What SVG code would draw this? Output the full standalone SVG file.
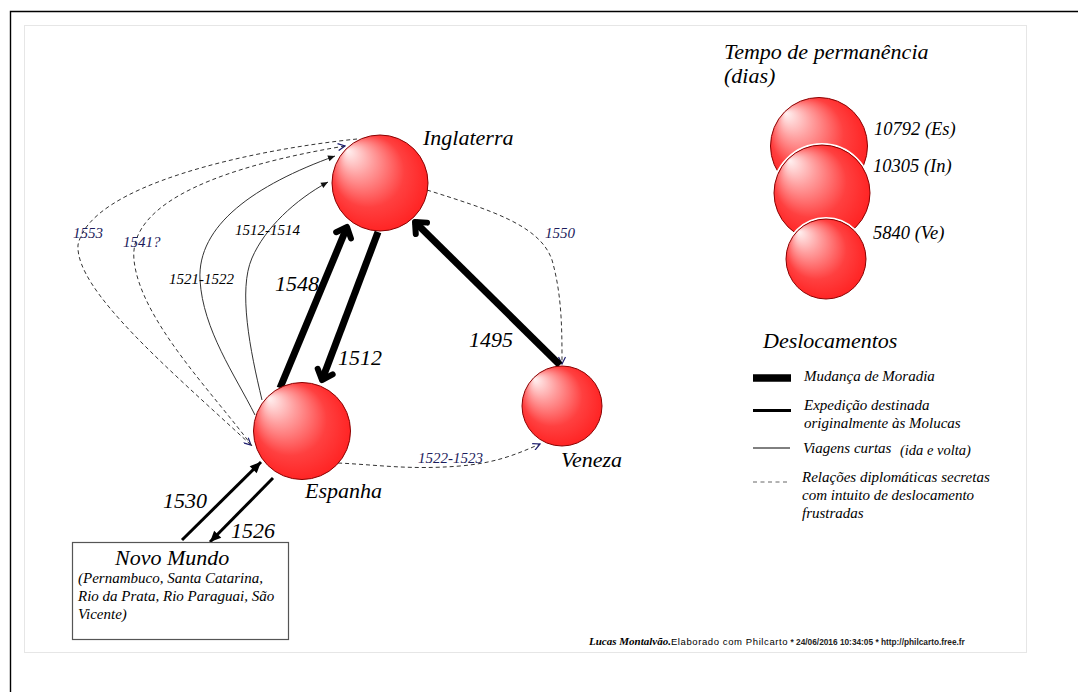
<svg xmlns="http://www.w3.org/2000/svg" width="1078" height="692" viewBox="0 0 1078 692">
  <style>
    .lbl { font-family: "Liberation Serif", "Times New Roman", serif; font-style: italic; fill: #000; }
    .big { font-size: 22px; }
    .mid { font-size: 15px; }
    .navy { fill: #1c1c5c; }
    .ball { fill: url(#ball); stroke: #8a0000; stroke-width: 1; }
    .halo { fill: none; stroke: #fff; stroke-width: 2; }
    .thick { stroke: #000; stroke-width: 7; fill: none; }
    .medium { stroke: #000; stroke-width: 3; fill: none; }
    .thin { stroke: #333; stroke-width: 1; fill: none; }
    .dash { stroke: #333; stroke-width: 1; fill: none; stroke-dasharray: 4 3; }
  </style>
  <defs>
    <radialGradient id="ball" cx="0.6" cy="0.6" r="0.75" fx="0.16" fy="0.16">
      <stop offset="0" stop-color="#fff2f2"/>
      <stop offset="0.22" stop-color="#ffa0a0"/>
      <stop offset="0.5" stop-color="#ff4040"/>
      <stop offset="0.8" stop-color="#ff1818"/>
      <stop offset="1" stop-color="#ff0000"/>
    </radialGradient>
    <marker id="chev" viewBox="-16 -14 20 28" refX="0" refY="0" markerWidth="20" markerHeight="28" markerUnits="userSpaceOnUse" orient="auto">
      <path d="M -9 -8 L 0 0 L -9 8" fill="none" stroke="#000" stroke-width="6" stroke-linecap="round" stroke-linejoin="round"/>
    </marker>
    <marker id="tri" viewBox="-12 -6 14 12" refX="0" refY="0" markerWidth="14" markerHeight="12" markerUnits="userSpaceOnUse" orient="auto">
      <path d="M -11 -5 L 0 0 L -11 5 Z" fill="#000"/>
    </marker>
    <marker id="tiny" viewBox="-8 -4 9 8" refX="0" refY="0" markerWidth="9" markerHeight="8" markerUnits="userSpaceOnUse" orient="auto">
      <path d="M -7 -3 L 0 0 L -7 3 Z" fill="#111"/>
    </marker>
    <marker id="tinyNavy" viewBox="-8 -4 9 8" refX="0" refY="0" markerWidth="9" markerHeight="8" markerUnits="userSpaceOnUse" orient="auto">
      <path d="M -7 -3.5 L 0 0 L -7 3.5" fill="none" stroke="#1c1c6e" stroke-width="1.2"/>
    </marker>
  </defs>

  <!-- page frame -->
  <rect width="1078" height="692" fill="#fff"/>
  <path d="M 10.5 692 L 10.5 11.5 L 1078 11.5" fill="none" stroke="#000" stroke-width="1.4"/>
  <rect x="24.5" y="25.5" width="1002" height="627" fill="none" stroke="#e6e6e6" stroke-width="1"/>

  <!-- connectors -->
  <g id="connectors">
    <!-- short trips Espanha -> Inglaterra -->
    <path class="thin" d="M 255 415 C 235 375 203 330 200 280 C 197 225 255 185 335 156" marker-end="url(#tiny)"/>
    <path class="thin" d="M 262 400 C 250 350 238 290 252 258 C 265 228 295 200 328 182" marker-end="url(#tiny)"/>
    <!-- secret diplomatic relations -->
    <path class="dash" d="M 357 139 C 250 150 90 185 78 245 C 75 290 170 370 251 445" marker-end="url(#tinyNavy)"/>
    <path class="dash" d="M 252 446 C 215 395 140 320 134 260 C 128 200 230 165 345 146" marker-end="url(#tinyNavy)"/>
    <path class="dash" d="M 427 190 C 490 210 540 225 552 260 C 562 295 562 330 562 364" marker-end="url(#tinyNavy)"/>
    <path class="dash" d="M 338 463 C 380 465 410 470 460 466 C 495 463 515 455 540 444" marker-end="url(#tinyNavy)"/>
    <!-- change of residence -->
    <line class="thick" x1="280" y1="388" x2="347" y2="227" marker-end="url(#chev)"/>
    <line class="thick" x1="378" y1="232" x2="322" y2="380" marker-end="url(#chev)"/>
    <line class="thick" x1="560" y1="365" x2="415" y2="222" marker-end="url(#chev)"/>
    <!-- Moluccas expedition -->
    <line class="medium" x1="182" y1="540" x2="261" y2="462" marker-end="url(#tri)"/>
    <line class="medium" x1="273" y1="478" x2="210" y2="542" marker-end="url(#tri)"/>

    <g class="lbl">
      <text class="big" x="275" y="291">1548</text>
      <text class="big" x="338" y="365">1512</text>
      <text class="big" x="469" y="347">1495</text>
      <text class="big" x="163" y="508">1530</text>
      <text class="big" x="231" y="538">1526</text>
      <text class="mid navy" x="73" y="238">1553</text>
      <text class="mid navy" x="123" y="247">1541?</text>
      <text class="mid" x="235" y="235">1512-1514</text>
      <text class="mid" x="169" y="284">1521-1522</text>
      <text class="mid navy" x="545" y="238">1550</text>
      <text class="mid navy" x="418" y="463">1522-1523</text>
    </g>
  </g>

  <!-- places -->
  <g id="inglaterra">
    <circle class="ball" cx="380" cy="183" r="48"/>
    <text class="lbl big" x="423" y="145">Inglaterra</text>
  </g>
  <g id="espanha">
    <circle class="ball" cx="302" cy="431" r="48.5"/>
    <text class="lbl big" x="305" y="498">Espanha</text>
  </g>
  <g id="veneza">
    <circle class="ball" cx="562" cy="406" r="40"/>
    <text class="lbl big" x="561" y="467">Veneza</text>
  </g>
  <g id="novo-mundo">
    <rect x="72.5" y="542.5" width="216" height="97" fill="#fff" stroke="#555" stroke-width="1.2"/>
    <text class="lbl big" x="115" y="565">Novo Mundo</text>
    <text class="lbl mid" x="78" y="583">(Pernambuco, Santa Catarina,</text>
    <text class="lbl mid" x="78" y="601">Rio da Prata, Rio Paraguai, São</text>
    <text class="lbl mid" x="78" y="619">Vicente)</text>
  </g>

  <!-- legend: length of stay -->
  <g id="legenda-tempo">
    <text class="lbl big" x="724" y="59">Tempo de permanência</text>
    <text class="lbl big" x="724" y="83">(dias)</text>
    <circle class="ball" cx="819" cy="146" r="48.5"/>
    <circle class="halo" cx="822" cy="193" r="49"/>
    <circle class="ball" cx="822" cy="193" r="48"/>
    <circle class="halo" cx="826" cy="259" r="41"/>
    <circle class="ball" cx="826" cy="259" r="40"/>
    <text class="lbl" font-size="18.5" x="874" y="135">10792 (Es)</text>
    <text class="lbl" font-size="18.5" x="873" y="172">10305 (In)</text>
    <text class="lbl" font-size="18.5" x="873" y="239">5840 (Ve)</text>
  </g>

  <!-- legend: movements -->
  <g id="legenda-deslocamentos">
    <text class="lbl big" x="763" y="348">Deslocamentos</text>
    <line x1="753" y1="378" x2="791" y2="378" stroke="#000" stroke-width="7.5"/>
    <text class="lbl mid" x="804" y="381">Mudança de Moradia</text>
    <line x1="753" y1="410.5" x2="791" y2="410.5" stroke="#000" stroke-width="3"/>
    <text class="lbl mid" x="804" y="410">Expedição destinada</text>
    <text class="lbl mid" x="804" y="428">originalmente às Molucas</text>
    <line x1="753" y1="448" x2="790" y2="448" stroke="#000" stroke-width="1"/>
    <text class="lbl mid" x="803" y="453">Viagens curtas</text>
    <text class="lbl" font-size="14.5" x="900" y="455">(ida e volta)</text>
    <line x1="753" y1="482" x2="789" y2="482" stroke="#666" stroke-width="1" stroke-dasharray="4 3.5"/>
    <text class="lbl mid" x="802" y="482">Relações diplomáticas secretas</text>
    <text class="lbl mid" x="802" y="500">com intuito de deslocamento</text>
    <text class="lbl mid" x="802" y="518">frustradas</text>
  </g>

  <!-- credits -->
  <g id="creditos">
    <text x="589" y="645" font-size="11"><tspan font-family="Liberation Serif, serif" font-style="italic" font-weight="bold">Lucas Montalvão.</tspan><tspan font-family="Liberation Sans, Arial, sans-serif" font-size="9.5" letter-spacing="0.6">Elaborado com Philcarto</tspan><tspan font-family="Liberation Sans, Arial, sans-serif" font-size="8.3" font-weight="bold" fill="#222"> * 24/06/2016 10:34:05 * http://philcarto.free.fr</tspan></text>
  </g>
</svg>
